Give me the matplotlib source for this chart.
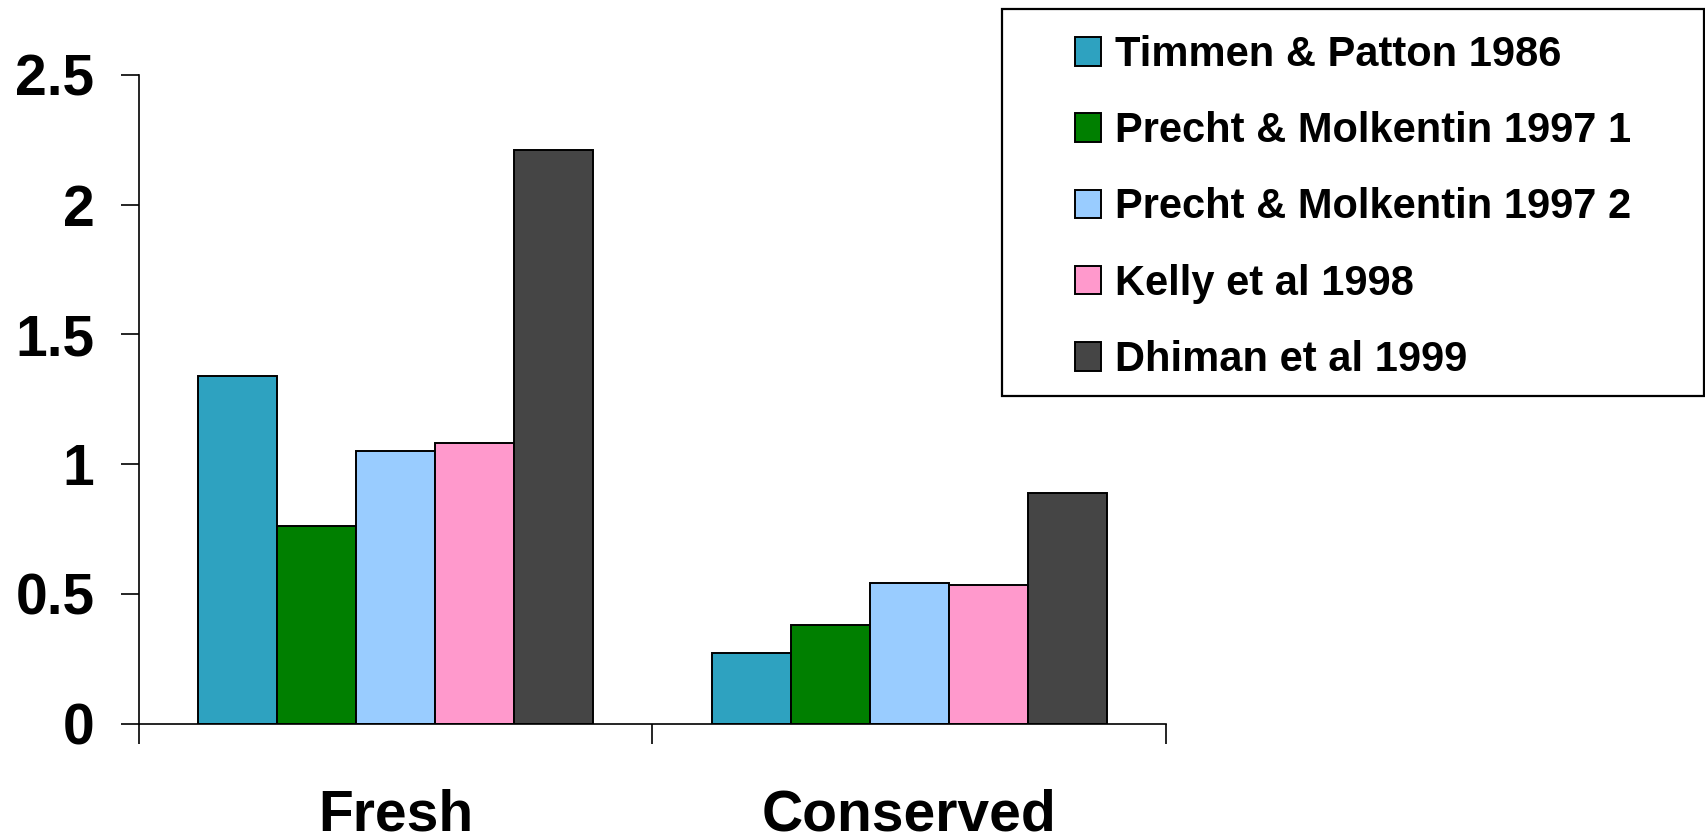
import matplotlib
matplotlib.use("Agg")
import matplotlib.pyplot as plt
from matplotlib.patches import Rectangle
import numpy as np

categories = ["Fresh", "Conserved"]
series = [
    "Timmen & Patton 1986",
    "Precht & Molkentin 1997 1",
    "Precht & Molkentin 1997 2",
    "Kelly et al 1998",
    "Dhiman et al 1999",
]
values = [
    [1.34, 0.27],
    [0.76, 0.38],
    [1.05, 0.54],
    [1.08, 0.535],
    [2.21, 0.89],
]
colors = ["#2EA2C0", "#007F00", "#99CCFF", "#FF99CC", "#454545"]
yticks = [0, 0.5, 1, 1.5, 2, 2.5]
ytick_labels = ["0", "0.5", "1", "1.5", "2", "2.5"]

plt.rcParams["font.family"] = ["Liberation Sans", "DejaVu Sans"]
plt.rcParams["font.weight"] = "bold"

fig = plt.figure(figsize=(17.06, 8.40), dpi=100)
ax = fig.add_axes([139 / 1706, 1 - 723.5 / 840, 1027 / 1706, (723.5 - 75) / 840])

x = np.arange(len(categories))
width = 0.154
n = len(series)
handles = []
for i, (name, vals, col) in enumerate(zip(series, values, colors)):
    offset = (i - (n - 1) / 2) * width
    b = ax.bar(x + offset, vals, width, color=col, edgecolor="black",
               linewidth=1.4, label=name, zorder=2)
    handles.append(b)

ax.set_xlim(-0.5, 1.5)
ax.set_ylim(0, 2.5)
ax.spines["top"].set_visible(False)
ax.spines["right"].set_visible(False)
for s in ("left", "bottom"):
    ax.spines[s].set_linewidth(1.2)
    ax.spines[s].set_zorder(3)

ax.set_yticks(yticks)
ax.set_yticklabels(ytick_labels, fontsize=41, fontweight="bold")
ax.tick_params(axis="y", length=13, width=1.2, pad=19, direction="out")

ax.set_xticks(x)
ax.set_xticklabels(categories, fontsize=41, fontweight="bold")
ax.set_xticks([-0.5, 0.5, 1.5], minor=True)
ax.tick_params(axis="x", which="major", length=0, pad=47)
ax.tick_params(axis="x", which="minor", length=14.5, width=1.2, direction="out")

# legend box
fig.patches.append(Rectangle((1002 / 1706, 1 - 396 / 840), 702 / 1706, 387 / 840,
                             transform=fig.transFigure, fill=False,
                             edgecolor="black", linewidth=1.6))
fs = 30
fs_px = fs * 100 / 72
fig.legend(handles=handles, labels=series, loc="upper left",
           bbox_to_anchor=(1075 / 1706, 1 - 35 / 840),
           frameon=False, borderpad=0, borderaxespad=0,
           prop={"size": fs, "weight": "bold"},
           handlelength=26 / fs_px, handleheight=28 / fs_px,
           handletextpad=14 / fs_px, labelspacing=0.87)

fig.savefig("out.png", dpi=100)
